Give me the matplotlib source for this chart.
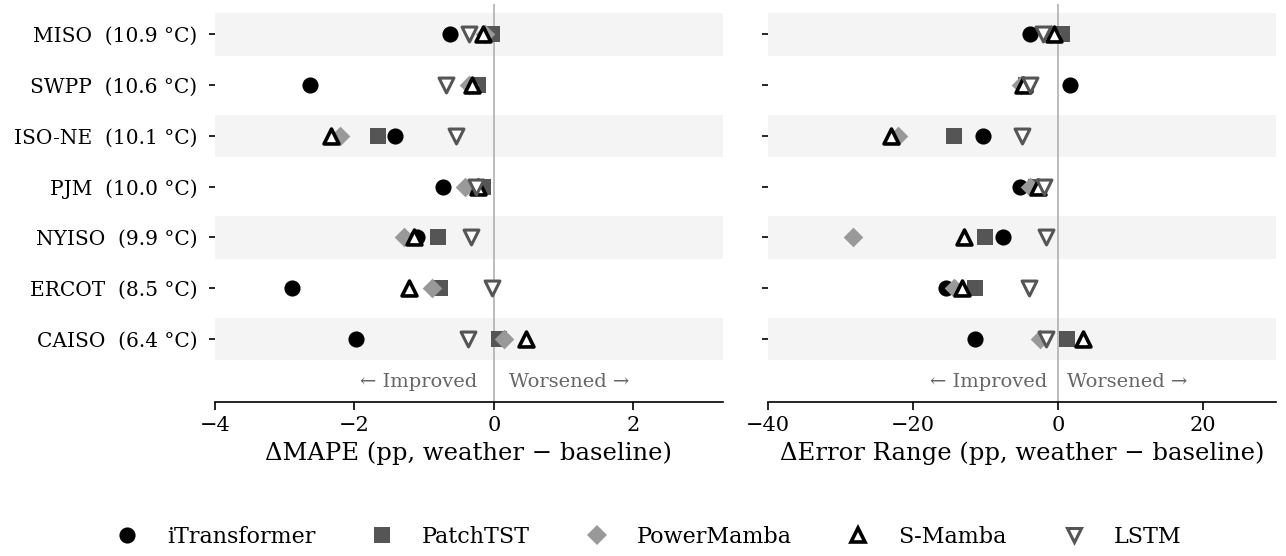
import numpy as np
import matplotlib
matplotlib.use("Agg")
import matplotlib.pyplot as plt
from matplotlib.lines import Line2D

plt.rcParams['font.family'] = ['DejaVu Serif']

# regions ordered top to bottom, with mean temperature
regions = ['MISO', 'SWPP', 'ISO-NE', 'PJM', 'NYISO', 'ERCOT', 'CAISO']
temps = [10.9, 10.6, 10.1, 10.0, 9.9, 8.5, 6.4]

models = ['iTransformer', 'PatchTST', 'PowerMamba', 'S-Mamba', 'LSTM']

# change in MAPE (pp), one list per model, same order as regions
mape_itransformer = [-0.63, -2.64, -1.41, -0.73, -1.10, -2.89, -1.98]
mape_patchtst = [-0.03, -0.22, -1.66, -0.15, -0.80, -0.77, 0.07]
mape_powermamba = [-0.12, -0.35, -2.20, -0.42, -1.29, -0.89, 0.15]
mape_smamba = [-0.16, -0.31, -2.33, -0.23, -1.15, -1.21, 0.46]
mape_lstm = [-0.35, -0.68, -0.54, -0.25, -0.32, -0.02, -0.37]

# change in error range (pp)
range_itransformer = [-3.9, 1.6, -10.3, -5.2, -7.6, -15.5, -11.4]
range_patchtst = [0.6, -4.4, -14.4, -3.0, -10.0, -11.4, 1.3]
range_powermamba = [-1.0, -5.1, -22.1, -3.9, -28.3, -14.3, -2.5]
range_smamba = [-0.5, -4.9, -23.0, -2.7, -13.0, -13.3, 3.5]
range_lstm = [-2.1, -3.8, -5.0, -1.9, -1.7, -4.0, -1.7]

mape_data = [mape_itransformer, mape_patchtst, mape_powermamba, mape_smamba, mape_lstm]
range_data = [range_itransformer, range_patchtst, range_powermamba, range_smamba, range_lstm]

styles = {
    'iTransformer': dict(marker='o', facecolor='black', edgecolor='black', lw=0, s=135),
    'PatchTST': dict(marker='s', facecolor='#555555', edgecolor='#555555', lw=0, s=125),
    'PowerMamba': dict(marker='D', facecolor='#999999', edgecolor='#999999', lw=0, s=100),
    'S-Mamba': dict(marker='^', facecolor='white', edgecolor='black', lw=2.6, s=115),
    'LSTM': dict(marker='v', facecolor='white', edgecolor='#555555', lw=2.2, s=115),
}

fig, axes = plt.subplots(1, 2, figsize=(12.86, 5.56), dpi=100)
fig.subplots_adjust(left=0.167, right=0.992, top=0.993, bottom=0.277, wspace=0.089)

ypos = np.arange(len(regions))
ylabels = [f"{r}  ({t:.1f} °C)" for r, t in zip(regions, temps)]

panels = [
    (axes[0], mape_data, (-4, 3.28), [-4, -2, 0, 2], 'ΔMAPE (pp, weather − baseline)', 11),
    (axes[1], range_data, (-40, 30), [-40, -20, 0, 20], 'ΔError Range (pp, weather − baseline)', 6.5),
]

for ax, data, xlim, xticks, xlabel, off in panels:
    for i in ypos:
        if i % 2 == 0:
            ax.axhspan(i - 0.42, i + 0.42, color='#f4f4f4', zorder=0, lw=0)
    ax.axvline(0, color='#b0b0b0', lw=1.2, zorder=1)
    for name, vals in zip(models, data):
        st = styles[name]
        ax.scatter(vals, ypos, marker=st['marker'], s=st['s'], facecolors=st['facecolor'],
                   edgecolors=st['edgecolor'], linewidths=st['lw'], zorder=3)
    ax.set_xlim(*xlim)
    ax.set_ylim(7.24, -0.6)
    ax.set_xticks(xticks)
    ax.set_xticklabels([f"{t}".replace('-', '−') for t in xticks])
    ax.set_yticks(ypos)
    ax.set_xlabel(xlabel, fontsize=17.5, labelpad=5)
    ax.tick_params(axis='x', labelsize=15, length=6, width=1.2, pad=4)
    ax.tick_params(axis='y', labelsize=14.5, length=4.5, width=1.2, pad=8)
    for sp in ['top', 'right', 'left']:
        ax.spines[sp].set_visible(False)
    ax.spines['bottom'].set_linewidth(1.2)
    ax.annotate('← Improved', xy=(0, 6.84), xytext=(-off - 1, 0), textcoords='offset points',
                ha='right', va='center', color='#666666', fontsize=14)
    ax.annotate('Worsened →', xy=(0, 6.84), xytext=(off, 0), textcoords='offset points',
                ha='left', va='center', color='#666666', fontsize=14)

axes[0].set_yticklabels(ylabels)
axes[1].set_yticklabels([])

handles = []
for name in models:
    st = styles[name]
    handles.append(Line2D([], [], ls='none', marker=st['marker'], markersize=np.sqrt(st['s']),
                          markerfacecolor=st['facecolor'], markeredgecolor=st['edgecolor'],
                          markeredgewidth=st['lw'], label=name))
fig.legend(handles=handles, loc='lower center', bbox_to_anchor=(0.5, -0.022), ncol=5,
           frameon=False, fontsize=16, columnspacing=2.0, handletextpad=0.8)

fig.savefig('out.png', dpi=100)
